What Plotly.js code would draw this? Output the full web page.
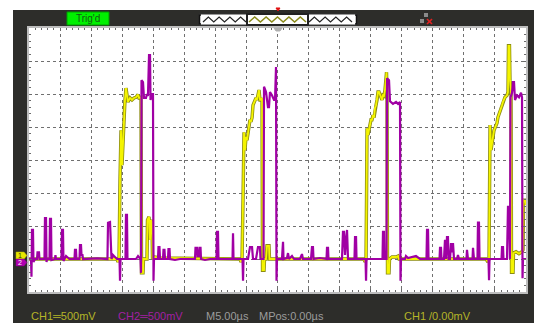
<!DOCTYPE html>
<html><head><meta charset="utf-8">
<script src="https://cdn.plot.ly/plotly-3.0.1.min.js"></script>
<style>html,body{margin:0;padding:0;background:#fff;}</style>
</head><body><div id="chart" style="width:534px;height:323px;"></div>
<script>
// ---- data (time in µs, voltage in mV) ----
const ch1Time = [
 -40,-25.84,-25.68,-25.51,-25.35,-25.19,-25.03,-24.87,-24.71,-24.55,-24.39,-24.23,-24.07,-23.74,-23.42,-23.10,-22.78,-22.45,-22.29,-21.97,-21.89,-21.65,-21.57,-21.01,-20.93,-20.68,-20.52,-20.36,-20.20,-20.12,-19.72,-18.91,
 -6.04,-5.88,-5.71,-5.55,-5.39,-5.23,-5.07,-4.91,-4.59,-4.43,-4.27,-4.10,-3.94,-3.78,-3.46,-3.30,-3.14,-2.98,-2.82,-2.66,-2.49,-2.41,-2.17,-2.09,-1.85,-1.69,-1.37,-1.29,-0.40,
 13.92,14.09,14.25,14.33,14.41,14.57,14.89,15.05,15.21,15.37,15.53,15.69,15.86,16.02,16.18,16.34,16.50,16.82,16.98,17.14,17.30,17.47,17.55,17.63,17.71,17.95,18.03,18.43,19.08,19.40,19.56,
 33.56,33.88,34.05,34.13,34.21,34.37,34.53,34.69,34.85,35.17,35.33,35.49,35.82,36.14,36.30,36.62,36.94,37.10,37.18,37.34,37.42,37.59,37.67,37.91,37.99,38.39,38.87,39.36,39.52,39.60,39.84,40.0
];
const ch1Volt = [
 0,0,-45,0,1200,1950,1420,1800,1950,2410,2590,2440,2380,2440,2410,2440,2450,2490,2440,2450,-210,-210,0,0,590,640,290,590,560,0,30,15,
 0,-45,0,890,1920,1650,1850,1800,1980,2110,2080,2140,2330,2360,2440,2410,2530,2560,2410,2410,2440,-170,-170,0,0,200,200,0,0,
 0,-45,0,890,1980,1880,2030,2110,2110,2180,2140,2290,2330,2410,2530,2530,2480,2410,2480,2470,2560,2830,2830,2410,-210,-210,0,30,30,45,0,
 0,-45,0,890,2030,1650,1800,1850,1950,2030,2060,2150,2230,2330,2380,2450,2480,2530,3230,3230,2710,2560,-200,-200,90,110,80,110,140,890,890,820
];
const ch2Time = [
 -40.0,-39.68,-39.6,-39.52,-39.36,-39.28,-39.04,-38.71,-38.63,-38.39,
 -38.31,-37.51,-37.43,-37.26,-37.18,-37.10,-36.70,-36.62,-36.46,-36.38,
 -35.82,-35.74,-35.66,-34.77,-34.69,-34.53,-34.45,-34.04,-33.5,-32.68,
 -32.60,-32.44,-32.36,-31.87,-31.79,-31.63,-31.55,-31.39,-31.31,-29,
 -27.37,-27.28,-26.96,-26.80,-26.72,-26.48,-25.84,-25.43,-25.35,-25.27,
 -24.47,-24.39,-24.23,-24.15,-22.78,-22.45,-22.05,-21.97,-21.89,-21.65,
 -21.49,-21.17,-21.01,-20.85,-20.68,-20.52,-20.44,-20.20,-20.04,-19.96,
 -19.88,-19.24,-19.16,-19.00,-18.91,-18.43,-18.35,-18.19,-18.11,-17.63,
 -17.55,-17.38,-17.30,-16.50,-15.69,-13.28,-13.20,-12.96,-12.88,-12.64,
 -12.56,-12.39,-12.31,-11.67,-10.87,-9.82,-9.74,-9.58,-9.50,-7.24,
 -7.16,-7.08,-5.63,-5.55,-5.47,-4.75,-4.43,-4.10,-3.94,-3.46,
 -3.14,-2.82,-2.74,-2.25,-2.17,-1.85,-1.53,-1.37,-1.21,-0.89,
 -0.56,-0.40,-0.32,-0.24,-0.16,-0.08,0.72,0.80,0.89,0.97,
 1.53,1.69,1.85,2.33,2.66,3.62,3.94,4.10,5.39,5.55,
 5.71,5.80,6.84,7.89,7.97,8.13,8.21,10.38,10.54,10.70,
 10.87,11.03,11.19,11.35,12.39,12.48,12.64,12.72,14.17,14.25,
 14.33,16.90,16.98,17.14,17.22,17.55,17.63,17.95,18.11,18.59,
 19.08,19.40,19.72,19.80,19.88,20.52,20.68,21.01,21.65,22.29,
 22.94,23.98,24.07,24.23,24.31,26.08,26.16,26.32,26.40,26.80,
 26.96,27.12,27.28,27.44,27.53,27.77,27.93,28.09,28.25,28.41,
 28.89,29.05,29.22,30.42,30.50,30.66,31.39,31.47,31.63,32.19,
 32.27,32.43,32.52,33.96,34.05,34.13,36.06,36.14,36.30,36.38,
 36.94,37.10,37.26,37.34,37.42,37.51,37.75,37.91,38.07,38.23,
 38.55,38.87,39.20,39.36,39.44,39.52,40.0
];
const ch2Volt = [
 0,0,-270,440,440,-45,0,0,100,100,
 0,0,620,620,-45,0,0,610,610,-15,
 0,60,0,0,440,440,-30,45,0,0,
 140,140,0,0,210,210,60,60,0,10,
 0,550,560,290,0,60,0,0,-330,0,
 0,670,670,0,0,45,0,-210,2710,2680,
 2440,2440,2500,2470,3090,3090,2410,2500,2500,-330,
 0,0,180,180,0,0,140,140,0,0,
 150,150,0,-15,0,0,170,170,45,45,
 170,170,0,-15,0,0,410,410,0,0,
 390,0,0,-330,0,0,180,180,0,0,
 180,180,0,0,2610,2530,2300,2300,2530,2480,
 2410,2410,2910,2910,-330,0,0,260,260,0,
 15,90,0,45,0,0,75,0,0,180,
 180,0,15,0,170,170,0,0,410,410,
 60,290,440,0,0,330,330,0,0,-330,
 0,0,410,410,0,0,2740,2710,2390,2350,
 2380,2350,2380,-330,0,0,45,15,30,45,
 0,0,440,440,0,0,170,170,0,0,
 290,0,330,330,0,0,240,100,240,0,
 0,60,0,0,140,0,0,170,0,0,
 550,550,0,0,-320,0,0,180,180,0,
 0,790,790,0,0,2450,2520,2680,2680,2410,
 2480,2450,2520,2450,-290,0,0
];
const statusText = "Trig'd";
const bottomLabels = ["CH1\u2550500mV", "CH2\u2550500mV", "M5.00\u00b5s", "MPos:0.00\u00b5s", "CH1 /0.00mV"];

// ---- geometry helpers (pixel -> paper) ----
const L=29, R=526, T=28, B=292;
const px = x => (x-L)/(R-L);
const py = y => (B-y)/(B-T);
function rect(x0,y0,x1,y1,fill,line,lw,layer){
  return {type:'rect',xref:'paper',yref:'paper',x0:px(x0),x1:px(x1),y0:py(y1),y1:py(y0),
    fillcolor:fill,line:{color:line||fill,width:lw||0},layer:layer||'above'};
}
function path(pts,fill,line,lw,closed){
  let d = pts.map((p,i)=>(i?'L':'M')+px(p[0]).toFixed(5)+','+py(p[1]).toFixed(5)).join(' ');
  if(closed) d += ' Z';
  return {type:'path',xref:'paper',yref:'paper',path:d,fillcolor:fill||'rgba(0,0,0,0)',line:{color:line,width:lw},layer:'above'};
}
function zig(x0,x1,n,yt,yb){
  const pts=[]; const step=(x1-x0)/(2*n);
  for(let i=0;i<=2*n;i++) pts.push([x0+i*step, i%2?yt:yb]);
  return pts;
}

const shapes = [
  rect(0,0,13,323,'#ffffff'),
  rect(0,0,534,10,'#ffffff'),
  // Trig'd box
  rect(67,12,109,25,'#00f000','#00a000',1),
  // memory bar
  rect(199,14,357,25,'#ffffff','#333333',1),
  rect(247,14,308,25,'#ffffff','#222222',2),
  path([[201,15],[199.5,15],[199.5,24],[201,24]],null,'#111',1.5),
  path([[355,15],[356.5,15],[356.5,24],[355,24]],null,'#111',1.5),
  path(zig(203,246,4,17,22),null,'#222',1.2),
  path(zig(249,306,5,17,22),null,'#8a8a1a',1.5),
  path(zig(309,352,4,17,22),null,'#222',1.2),
  // trigger position marker
  path([[276,8],[280,8],[278,11]],'#e01010','#e01010',1,true),
  path([[274,28],[282,28],[280,31],[276,31]],'#b0b0b0','#b0b0b0',1,true),
  // icon
  rect(424,13,428,17,'#8a8a8a','#8a8a8a',0),
  rect(420,19,424,23,'#8a8a8a','#8a8a8a',0),
  path([[427,19],[432,24]],null,'#e02020',1.6),
  path([[432,19],[427,24]],null,'#e02020',1.6),
  // channel ground markers
  path([[16,252],[24,252],[27,255.5],[24,259],[16,259]],'#e8e800','#b0b000',0.5,true),
  path([[16,259],[24,259],[27,262.5],[24,266],[16,266]],'#b000b0','#800080',0.5,true)
];

const font = 'Liberation Sans, Arial, sans-serif';
function ann(text,x,y,color,size,anchor){
  return {text:text,xref:'paper',yref:'paper',x:px(x),y:py(y),xanchor:anchor||'left',yanchor:'middle',
    showarrow:false,font:{family:font,size:size,color:color}};
}
const annotations = [
  ann(statusText,88,18.5,'#145a14',10,'center'),
  ann('1',20,255.5,'#333300',7,'center'),
  ann('2',20,262.5,'#ffffff',7,'center'),
  ann(bottomLabels[0],29,316,'#b5b528',11),
  ann(bottomLabels[1],116,316,'#a320a3',11),
  ann(bottomLabels[2],204,316,'#9c9c9c',11),
  ann(bottomLabels[3],257,316,'#9c9c9c',11),
  ann(bottomLabels[4],402,316,'#b5b528',11)
];

const traces = [
  {x:ch1Time,y:ch1Volt,mode:'lines',line:{color:'#8c8c12',width:3.4},hoverinfo:'skip',showlegend:false},
  {x:ch1Time,y:ch1Volt,mode:'lines',line:{color:'#f4f400',width:1.8},hoverinfo:'skip',showlegend:false},
  {x:ch2Time,y:ch2Volt,mode:'lines',line:{color:'#a000a4',width:2.2},hoverinfo:'skip',showlegend:false}
];

const axisCommon = {
  showticklabels:false, zeroline:false, fixedrange:true,
  showgrid:true, gridcolor:'#707070', griddash:'dot', gridwidth:1,
  showline:true, linecolor:'#bdbdbd', linewidth:2, mirror:'ticks',
  ticks:'inside', ticklen:3, tickcolor:'#6a6a6a', tickwidth:1
};
const layout = {
  width:534, height:323,
  margin:{l:L, r:534-R, t:T, b:323-B, pad:0},
  paper_bgcolor:'#2d2d2a', plot_bgcolor:'#ffffff',
  showlegend:false,
  xaxis:Object.assign({}, axisCommon, {range:[-40,40], dtick:5, tick0:0,
    minor:{dtick:1, ticks:'inside', ticklen:2, tickcolor:'#6a6a6a', showgrid:false}}),
  yaxis:Object.assign({}, axisCommon, {range:[-500,3500], dtick:500, tick0:0,
    minor:{dtick:100, ticks:'inside', ticklen:2, tickcolor:'#6a6a6a', showgrid:false}}),
  shapes:shapes, annotations:annotations
};
Plotly.newPlot('chart', traces, layout, {displayModeBar:false, staticPlot:true});
</script>
</body></html>
